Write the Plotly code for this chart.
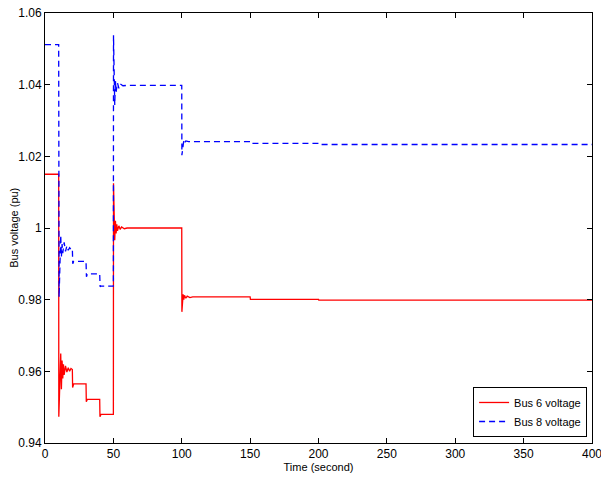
import plotly.graph_objects as go

# Bus 6 voltage (red, solid)
t6 = [0, 10, 10.1, 11.5, 12, 12.5, 13, 13.5, 14, 15, 16, 17, 18, 19, 20,
      20.2, 21, 30, 30.2, 31, 40, 40.2, 41, 50,
      50.1, 51, 51.5, 52, 52.5, 53, 54, 55, 56, 58, 60, 100,
      100.1, 101, 101.5, 102, 103, 104, 106, 108, 150, 150.2, 200, 200.2, 400]
v6 = [1.015, 1.015, 0.9473, 0.965, 0.955, 0.963, 0.958, 0.962, 0.959, 0.9615, 0.9598, 0.961, 0.960, 0.9608, 0.9605,
      0.9555, 0.9565, 0.9565, 0.9515, 0.9522, 0.9522, 0.9473, 0.948, 0.948,
      1.0125, 0.9966, 1.002, 0.9985, 1.001, 0.9992, 1.0006, 0.9996, 1.0003, 0.9998, 1.0, 1.0,
      0.9766, 0.9815, 0.980, 0.9812, 0.9804, 0.981, 0.9806, 0.9808, 0.9808, 0.9801, 0.9801, 0.9799, 0.9799]

# Bus 8 voltage (blue, dashed)
t8 = [0, 10, 10.3, 11.5, 12, 12.5, 13, 14, 15, 16, 17, 18, 19, 20,
      20.3, 21, 30, 30.3, 31, 40, 40.3, 41, 50,
      50.1, 51, 51.5, 52, 53, 54, 55, 57, 60, 100,
      100.1, 101.5, 102, 103, 105, 150, 150.2, 200, 200.2, 400]
v8 = [1.0512, 1.0512, 0.9807, 0.998, 0.992, 0.9955, 0.993, 0.996, 0.9935, 0.995, 0.9938, 0.9945, 0.994, 0.9942,
      0.990, 0.9907, 0.9907, 0.9864, 0.9872, 0.9872, 0.9836, 0.9838, 0.9838,
      1.0538, 1.0343, 1.041, 1.038, 1.0405, 1.039, 1.0402, 1.0397, 1.0398, 1.0398,
      1.0203, 1.0245, 1.0238, 1.0243, 1.0241, 1.0241, 1.0236, 1.0236, 1.0233, 1.0233]

xticks = [0, 50, 100, 150, 200, 250, 300, 350, 400]
yticks = [0.94, 0.96, 0.98, 1.0, 1.02, 1.04, 1.06]
yticklabels = ["0.94", "0.96", "0.98", "1", "1.02", "1.04", "1.06"]

fig = go.Figure()
fig.add_trace(go.Scatter(x=t6, y=v6, mode="lines", name="Bus 6 voltage",
                         line=dict(color="#ff0000", width=1.3)))
fig.add_trace(go.Scatter(x=t8, y=v8, mode="lines", name="Bus 8 voltage",
                         line=dict(color="#0000ff", width=1.3, dash="6px,4px")))

axis_common = dict(showgrid=False, zeroline=False, showline=True, linecolor="black",
                   linewidth=1, mirror="ticks", ticks="inside", ticklen=5,
                   tickcolor="black", tickfont=dict(size=12, color="black"),
                   automargin=False, ticklabeloverflow="allow")

fig.update_layout(
    width=601, height=477,
    margin=dict(l=45, r=9, t=13, b=34),
    plot_bgcolor="white", paper_bgcolor="white",
    font=dict(family="Liberation Sans, Arial, sans-serif", size=11, color="black"),
    xaxis=dict(range=[0, 400], tickvals=xticks, ticktext=[str(v) for v in xticks],
               title=dict(text="Time (second)", font=dict(size=11), standoff=2), **axis_common),
    yaxis=dict(range=[0.94, 1.06], tickvals=yticks, ticktext=yticklabels, **axis_common),
    legend=dict(x=0.991, y=0.014, xanchor="right", yanchor="bottom",
                bgcolor="white", bordercolor="black", borderwidth=1,
                font=dict(size=11), tracegroupgap=0, itemwidth=30),
    showlegend=True,
    annotations=[dict(text="Bus voltage (pu)", textangle=-90, xref="paper", yref="paper",
                      x=-0.057, y=0.5, xanchor="center", yanchor="middle",
                      showarrow=False, font=dict(size=11))],
)

# Remove the page's default body margin so the figure sits at the window's corner.
fig.write_html("out.html", config={"displayModeBar": False},
               post_script="document.body.style.margin='0';")
